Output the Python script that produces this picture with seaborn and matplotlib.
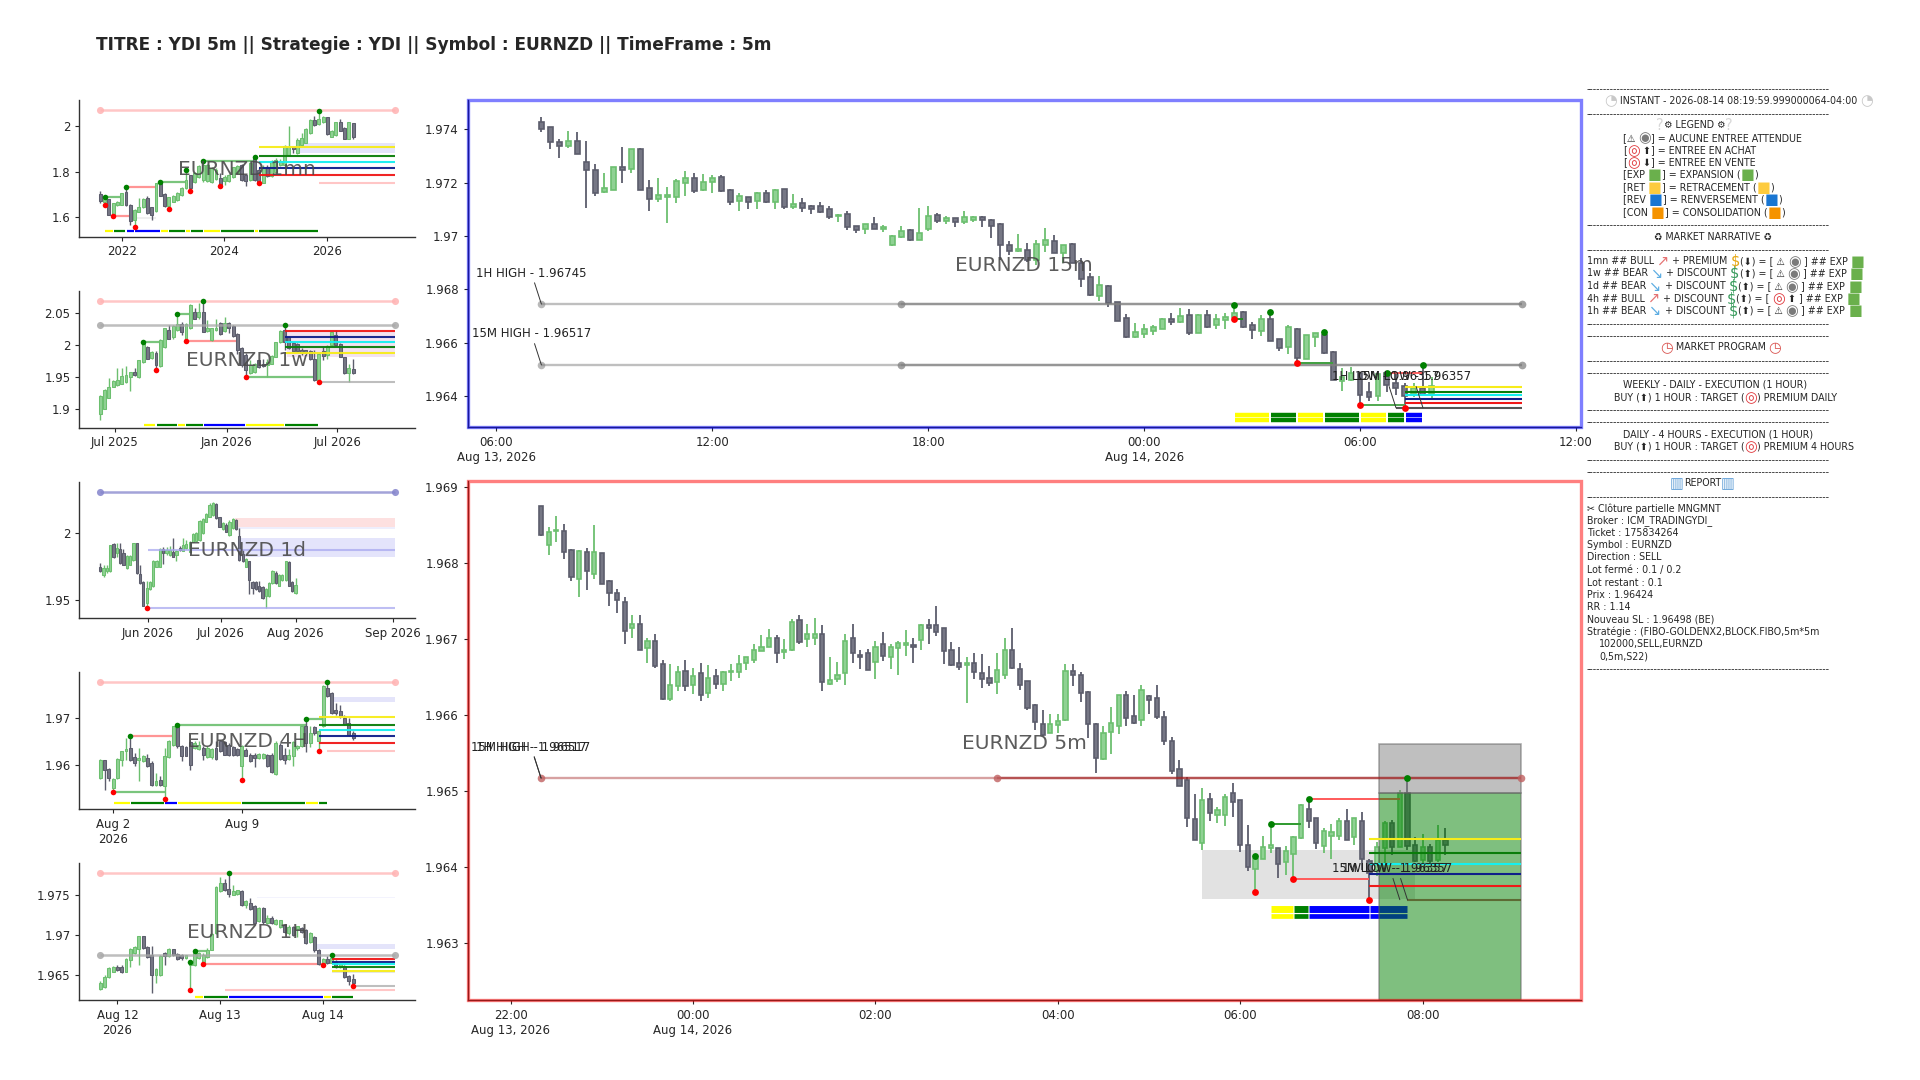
import matplotlib
matplotlib.use('Agg')
import matplotlib.pyplot as plt
import matplotlib.dates as mdates
from matplotlib.patches import Rectangle
import numpy as np
import pandas as pd
import seaborn as sns

# ---- candles : (open, high, low, close) ----
CANDLES_1MN = [
    (1.702,1.715,1.664,1.673),(1.669,1.690,1.654,1.682),(1.680,1.682,1.609,1.610),(1.610,1.664,1.606,1.663),
    (1.654,1.673,1.651,1.666),(1.654,1.708,1.653,1.705),(1.712,1.734,1.651,1.654),(1.655,1.658,1.566,1.585),
    (1.588,1.635,1.559,1.632),(1.625,1.686,1.622,1.647),(1.644,1.683,1.641,1.679),(1.683,1.693,1.615,1.618),
    (1.645,1.647,1.588,1.610),(1.629,1.752,1.625,1.749),(1.753,1.756,1.693,1.695),(1.702,1.705,1.647,1.650),
    (1.650,1.690,1.635,1.688),(1.669,1.698,1.666,1.693),(1.676,1.712,1.673,1.708),(1.698,1.734,1.695,1.730),
    (1.727,1.807,1.724,1.763),(1.784,1.785,1.715,1.727),(1.756,1.800,1.752,1.796),(1.775,1.829,1.771,1.825),
    (1.763,1.847,1.756,1.829),(1.761,1.834,1.756,1.829),(1.756,1.822,1.752,1.815),(1.766,1.815,1.763,1.807),
    (1.771,1.793,1.737,1.742),(1.761,1.785,1.742,1.778),(1.761,1.788,1.756,1.785),(1.775,1.822,1.771,1.819),
    (1.793,1.829,1.788,1.825),(1.829,1.834,1.761,1.763),(1.784,1.785,1.737,1.761),(1.763,1.844,1.761,1.839),
    (1.863,1.866,1.761,1.763),(1.807,1.815,1.749,1.756),(1.752,1.829,1.749,1.815),(1.819,1.829,1.775,1.781),
    (1.781,1.851,1.778,1.848),(1.800,1.858,1.793,1.851),(1.829,1.854,1.825,1.848),(1.829,1.917,1.825,1.912),
    (1.873,2.000,1.869,1.909),(1.906,1.909,1.880,1.898),(1.880,1.946,1.877,1.939),(1.917,1.968,1.912,1.946),
    (1.927,1.990,1.924,1.985),(1.968,2.029,1.965,2.026),(2.026,2.044,2.001,2.004),(2.009,2.067,2.006,2.029),
    (2.016,2.044,2.012,2.041),(2.038,2.041,1.961,1.963),(1.953,1.982,1.950,1.980),(1.961,2.019,1.958,2.016),
    (2.016,2.029,1.977,1.980),(1.990,1.994,1.942,1.943),(1.943,2.019,1.942,2.016),(2.012,2.015,1.943,1.953),
]
CANDLES_1W = [
    (1.893,1.922,1.883,1.920),(1.901,1.931,1.900,1.930),(1.918,1.948,1.917,1.935),(1.935,1.945,1.934,1.944),
    (1.938,1.964,1.936,1.945),(1.940,1.964,1.939,1.952),(1.943,1.967,1.941,1.953),(1.951,1.958,1.929,1.958),
    (1.958,1.964,1.952,1.953),(1.950,1.977,1.949,1.976),(1.974,2.004,1.972,2.003),(1.997,1.998,1.978,1.979),
    (1.980,1.990,1.979,1.989),(1.988,1.990,1.961,1.969),(1.967,2.009,1.966,2.008),(1.997,2.027,1.996,2.027),
    (2.023,2.031,2.009,2.010),(2.012,2.031,2.010,2.030),(2.023,2.048,2.022,2.033),(2.032,2.036,2.016,2.021),
    (2.007,2.034,2.006,2.033),(2.026,2.064,2.025,2.062),(2.052,2.057,2.040,2.041),(2.043,2.065,2.041,2.052),
    (2.052,2.069,2.020,2.021),(2.022,2.039,2.021,2.026),(2.008,2.026,2.007,2.026),(2.023,2.040,2.022,2.027),
    (2.035,2.036,2.016,2.017),(2.022,2.043,2.021,2.035),(2.035,2.036,2.019,2.027),(2.030,2.031,2.013,2.014),
    (2.017,2.018,1.986,1.992),(1.995,1.997,1.966,1.969),(1.984,1.987,1.950,1.961),(1.956,1.977,1.955,1.969),
    (1.958,1.972,1.957,1.970),(1.976,1.977,1.965,1.966),(1.971,1.979,1.966,1.967),(1.969,1.978,1.950,1.974),
    (1.971,1.984,1.970,1.983),(1.982,2.005,1.981,2.004),(2.004,2.023,2.003,2.022),(2.023,2.031,1.992,2.005),
    (2.012,2.013,1.994,1.995),(2.003,2.005,1.990,1.991),(2.002,2.003,1.989,1.990),(1.992,1.995,1.984,1.987),
    (1.992,1.993,1.984,1.987),(1.991,1.992,1.977,1.978),(1.978,1.992,1.944,1.945),(1.945,1.987,1.943,1.986),
    (1.990,1.997,1.976,1.983),(1.984,2.000,1.978,1.998),(2.000,2.021,1.999,2.020),(2.016,2.023,1.998,2.000),
    (2.002,2.003,1.981,1.982),(1.981,1.982,1.955,1.956),(1.956,1.971,1.943,1.965),(1.962,1.979,1.955,1.956),
]
CANDLES_1D = [
    (1.9750,1.9775,1.9710,1.9713),(1.9688,1.9763,1.9675,1.9738),(1.9713,1.9758,1.9705,1.9738),(1.9713,1.9913,1.9708,1.9913),
    (1.9920,1.9930,1.9815,1.9820),(1.9850,1.9930,1.9820,1.9888),(1.9880,1.9930,1.9770,1.9775),(1.9850,1.9880,1.9758,1.9763),
    (1.9738,1.9835,1.9733,1.9833),(1.9763,1.9840,1.9758,1.9833),(1.9800,1.9930,1.9795,1.9925),(1.9925,1.9930,1.9695,1.9700),
    (1.9695,1.9763,1.9620,1.9625),(1.9633,1.9638,1.9450,1.9455),(1.9475,1.9638,1.9438,1.9588),(1.9580,1.9638,1.9575,1.9630),
    (1.9600,1.9800,1.9595,1.9795),(1.9750,1.9800,1.9745,1.9795),(1.9750,1.9888,1.9745,1.9880),(1.9885,1.9895,1.9770,1.9850),
    (1.9850,1.9900,1.9838,1.9875),(1.9838,1.9905,1.9830,1.9875),(1.9863,1.9968,1.9820,1.9825),(1.9838,1.9875,1.9795,1.9870),
    (1.9888,1.9905,1.9870,1.9875),(1.9870,1.9968,1.9865,1.9913),(1.9888,1.9950,1.9883,1.9920),(1.9863,1.9945,1.9858,1.9938),
    (1.9938,2.0005,1.9933,1.9995),(1.9945,2.0013,1.9940,2.0005),(1.9950,2.0100,1.9945,2.0093),(2.0000,2.0113,1.9995,2.0108),
    (2.0088,2.0150,2.0083,2.0145),(2.0125,2.0225,2.0120,2.0213),(2.0138,2.0233,2.0133,2.0225),(2.0220,2.0225,2.0105,2.0113),
    (2.0120,2.0125,2.0045,2.0050),(2.0030,2.0088,2.0025,2.0080),(2.0063,2.0075,2.0008,2.0013),(1.9988,2.0100,1.9983,2.0088),
    (2.0038,2.0113,2.0033,2.0105),(2.0100,2.0105,2.0025,2.0030),(1.9983,2.0038,1.9788,1.9800),(1.9845,1.9875,1.9783,1.9788),
    (1.9750,1.9813,1.9745,1.9805),(1.9790,1.9795,1.9545,1.9650),(1.9633,1.9638,1.9545,1.9588),(1.9630,1.9638,1.9575,1.9580),
    (1.9600,1.9638,1.9558,1.9563),(1.9595,1.9600,1.9508,1.9513),(1.9530,1.9588,1.9438,1.9580),(1.9525,1.9630,1.9520,1.9625),
    (1.9625,1.9725,1.9620,1.9720),(1.9705,1.9713,1.9620,1.9625),(1.9605,1.9695,1.9600,1.9688),(1.9650,1.9695,1.9645,1.9688),
    (1.9650,1.9795,1.9645,1.9788),(1.9783,1.9788,1.9600,1.9605),(1.9630,1.9638,1.9555,1.9563),(1.9550,1.9663,1.9545,1.9613),
]
CANDLES_4H = [
    (1.95732,1.96136,1.95710,1.96108),(1.96108,1.96122,1.95484,1.95909),(1.95930,1.95944,1.95661,1.95732),(1.95519,1.95732,1.95427,1.95718),
    (1.95732,1.96157,1.95718,1.96143),(1.96122,1.96313,1.95980,1.96299),(1.96299,1.96583,1.96122,1.96334),(1.96370,1.96632,1.96086,1.96122),
    (1.96171,1.96263,1.95980,1.96051),(1.96122,1.96370,1.95661,1.96150),(1.96086,1.96228,1.96072,1.96193),(1.96157,1.96249,1.95966,1.95994),
    (1.96051,1.96086,1.95554,1.95590),(1.95576,1.95838,1.95554,1.95661),(1.95682,1.95767,1.95554,1.95576),(1.95554,1.96370,1.95306,1.96207),
    (1.96178,1.96547,1.96157,1.96512),(1.96441,1.96831,1.96420,1.96831),(1.96831,1.96860,1.96370,1.96420),(1.96405,1.96441,1.96086,1.96207),
    (1.96391,1.96405,1.96193,1.96207),(1.96491,1.96512,1.95909,1.96015),(1.96370,1.96512,1.96349,1.96476),(1.96349,1.96512,1.96334,1.96441),
    (1.96370,1.96405,1.96122,1.96228),(1.96178,1.96405,1.96157,1.96370),(1.96178,1.96370,1.96136,1.96349),(1.96370,1.96512,1.96122,1.96136),
    (1.96512,1.96547,1.96278,1.96299),(1.96491,1.96512,1.96214,1.96228),(1.96441,1.96476,1.96193,1.96228),(1.96391,1.96405,1.96193,1.96228),
    (1.96349,1.96370,1.96193,1.96228),(1.95980,1.96441,1.95682,1.96405),(1.96334,1.96370,1.96193,1.96207),(1.96228,1.96263,1.96065,1.96086),
    (1.96228,1.96263,1.95966,1.96157),(1.96157,1.96263,1.96143,1.96249),(1.96157,1.96263,1.96143,1.96249),(1.96228,1.96249,1.95966,1.95980),
    (1.96228,1.96263,1.95845,1.95859),(1.95824,1.96512,1.95788,1.96476),(1.96441,1.96476,1.96122,1.96136),(1.96228,1.96370,1.96037,1.96122),
    (1.96136,1.96349,1.96122,1.96228),(1.96207,1.96512,1.95994,1.96491),(1.96370,1.96441,1.96334,1.96420),(1.96420,1.96845,1.96391,1.96831),
    (1.96831,1.96994,1.96278,1.96476),(1.96476,1.96845,1.96391,1.96689),(1.96817,1.96831,1.96653,1.96689),(1.96512,1.96760,1.96313,1.96725),
    (1.96831,1.97717,1.96817,1.97681),(1.97646,1.97767,1.97455,1.97483),(1.97540,1.97554,1.97100,1.97114),(1.97185,1.97327,1.97079,1.97114),
    (1.97150,1.97292,1.97008,1.97043),(1.97008,1.97079,1.96866,1.96887),(1.96902,1.97008,1.96632,1.96653),(1.96689,1.96725,1.96533,1.96583),
]
CANDLES_1H = [
    (1.96320,1.96428,1.96312,1.96395),(1.96353,1.96499,1.96341,1.96478),(1.96470,1.96603,1.96462,1.96583),(1.96541,1.96612,1.96533,1.96595),
    (1.96603,1.96624,1.96553,1.96562),(1.96603,1.96624,1.96528,1.96533),(1.96541,1.96708,1.96533,1.96695),(1.96687,1.96833,1.96603,1.96825),
    (1.96770,1.96854,1.96762,1.96845),(1.96820,1.96987,1.96624,1.96979),(1.96979,1.96987,1.96825,1.96833),(1.96845,1.96854,1.96708,1.96720),
    (1.96749,1.96854,1.96278,1.96499),(1.96499,1.96583,1.96395,1.96574),(1.96499,1.96749,1.96487,1.96741),(1.96749,1.96791,1.96624,1.96729),
    (1.96729,1.96833,1.96720,1.96820),(1.96820,1.96825,1.96741,1.96749),(1.96762,1.96770,1.96687,1.96695),(1.96749,1.96762,1.96687,1.96708),
    (1.96708,1.96749,1.96695,1.96737),(1.96624,1.96666,1.96312,1.96645),(1.96624,1.96799,1.96616,1.96770),(1.96708,1.96791,1.96699,1.96770),
    (1.96666,1.96770,1.96641,1.96749),(1.96720,1.96833,1.96708,1.96812),(1.96812,1.97020,1.96804,1.97012),(1.97020,1.97604,1.97012,1.97596),
    (1.97542,1.97721,1.97533,1.97646),(1.97646,1.97696,1.97542,1.97554),(1.97571,1.97767,1.97471,1.97513),(1.97500,1.97625,1.97492,1.97542),
    (1.97513,1.97554,1.97500,1.97542),(1.97542,1.97554,1.97354,1.97375),(1.97375,1.97438,1.97333,1.97417),(1.97396,1.97458,1.97312,1.97321),
    (1.97363,1.97375,1.97137,1.97146),(1.97167,1.97346,1.97158,1.97333),(1.97333,1.97346,1.97137,1.97154),(1.97146,1.97250,1.97137,1.97208),
    (1.97208,1.97229,1.97137,1.97146),(1.97137,1.97196,1.97125,1.97179),(1.97096,1.97187,1.97087,1.97179),(1.97125,1.97137,1.97020,1.97029),
    (1.97020,1.97125,1.97000,1.97096),(1.97096,1.97104,1.96991,1.97000),(1.97071,1.97104,1.96970,1.97091),(1.97071,1.97096,1.97020,1.97041),
    (1.97063,1.97071,1.96887,1.96895),(1.96916,1.97029,1.96895,1.97020),(1.96970,1.96979,1.96791,1.96804),(1.96812,1.96820,1.96624,1.96633),
    (1.96624,1.96708,1.96616,1.96695),(1.96695,1.96729,1.96637,1.96645),(1.96654,1.96745,1.96645,1.96708),(1.96666,1.96687,1.96583,1.96603),
    (1.96595,1.96637,1.96583,1.96628),(1.96616,1.96624,1.96458,1.96470),(1.96487,1.96499,1.96374,1.96424),(1.96445,1.96512,1.96362,1.96395),
]
# 15m and 5m prices are stored in 1e-5 units
CANDLES_15M = [
    (197429,197448,197389,197400),(197409,197410,197326,197351),(197354,197363,197291,197338),(197339,197393,197331,197356),
    (197355,197389,197308,197309),(197279,197358,197104,197246),(197248,197270,197151,197163),(197165,197236,197160,197179),
    (197174,197259,197174,197258),(197260,197333,197200,197248),(197250,197328,197235,197326),(197328,197329,197174,197174),
    (197179,197210,197095,197139),(197139,197219,197129,197153),(197145,197183,197050,197153),(197148,197213,197124,197205),
    (197200,197243,197151,197219),(197219,197235,197163,197170),(197174,197234,197170,197203),(197204,197228,197160,197219),
    (197220,197230,197166,197168),(197174,197175,197118,197126),(197133,197160,197094,197149),(197145,197148,197103,197129),
    (197131,197165,197103,197163),(197163,197174,197124,197129),(197128,197175,197103,197174),(197175,197176,197103,197108),
    (197108,197156,197103,197121),(197124,197144,197091,197106),(197111,197116,197083,197101),(197111,197128,197086,197091),
    (197103,197114,197064,197070),(197075,197081,197051,197079),(197081,197093,197024,197034),(197036,197038,197013,197021),
    (197026,197046,197008,197044),(197045,197070,197025,197026),(197026,197041,197016,197034),(196965,197003,196964,197001),
    (196995,197036,196994,197020),(197024,197028,196983,196984),(196986,197105,196985,197013),(197026,197114,197020,197076),
    (197078,197085,197049,197058),(197055,197075,197045,197068),(197066,197069,197035,197051),(197053,197095,197045,197070),
    (197059,197076,197051,197071),(197070,197076,197035,197059),(197060,197064,196994,197036),(197046,197048,196910,196965),
    (196968,196983,196929,196944),(196943,197008,196940,196953),(196949,196975,196904,196910),(196910,196986,196891,196970),
    (196965,197030,196940,196984),(196981,197004,196935,196938),(196935,196966,196898,196966),(196970,196973,196898,196900),
    (196900,196916,196810,196838),(196845,196863,196775,196779),(196776,196851,196756,196818),(196814,196816,196735,196750),
    (196751,196754,196683,196683),(196691,196706,196619,196620),(196620,196673,196619,196641),(196633,196669,196616,196650),
    (196645,196665,196629,196660),(196651,196691,196650,196688),(196689,196713,196666,196679),(196678,196729,196673,196699),
    (196703,196726,196630,196638),(196638,196706,196636,196703),(196703,196721,196656,196658),(196665,196709,196650,196690),
    (196684,196710,196651,196695),(196696,196743,196688,196713),(196716,196719,196656,196660),(196668,196679,196615,196646),
    (196645,196703,196625,196689),(196689,196714,196605,196606),(196614,196615,196570,196581),(196585,196665,196558,196658),
    (196653,196654,196523,196541),(196540,196629,196539,196628),(196623,196638,196583,196635),(196628,196640,196559,196561),
    (196566,196568,196460,196461),(196456,196504,196419,196473),(196460,196510,196458,196488),(196488,196489,196365,196404),
    (196414,196454,196383,196398),(196400,196485,196381,196483),(196485,196486,196416,196441),(196448,196481,196404,196429),
    (196439,196448,196354,196401),(196408,196448,196398,196431),(196429,196515,196401,196404),(196408,196473,196394,196439),
]
CANDLES_5M = [
    (196875,196875,196836,196837),(196824,196847,196810,196841),(196842,196862,196828,196844),(196842,196852,196805,196814),
    (196817,196819,196776,196782),(196779,196817,196756,196816),(196814,196820,196765,196789),(196786,196850,196779,196814),
    (196813,196813,196773,196773),(196777,196778,196744,196761),(196760,196766,196734,196751),(196749,196756,196694,196711),
    (196714,196731,196701,196720),(196720,196731,196685,196685),(196688,196702,196668,196697),(196697,196706,196662,196665),
    (196667,196673,196620,196621),(196621,196667,196619,196639),(196638,196665,196632,196656),(196658,196673,196632,196638),
    (196639,196662,196628,196652),(196655,196669,196618,196626),(196629,196666,196623,196649),(196652,196661,196634,196641),
    (196641,196658,196631,196657),(196656,196667,196645,196658),(196656,196679,196649,196667),(196669,196677,196659,196676),
    (196673,196693,196668,196685),(196684,196705,196684,196689),(196690,196713,196690,196702),(196702,196705,196669,196681),
    (196683,196700,196674,196686),(196685,196726,196684,196722),(196725,196731,196694,196696),(196700,196720,196689,196706),
    (196702,196728,196692,196706),(196706,196718,196631,196644),(196641,196677,196640,196646),(196647,196670,196644,196653),
    (196655,196706,196639,196698),(196701,196720,196668,196681),(196679,196685,196660,196677),(196681,196687,196659,196659),
    (196670,196698,196648,196689),(196693,196709,196671,196678),(196677,196694,196660,196689),(196688,196697,196653,196695),
    (196692,196712,196678,196695),(196692,196701,196668,196690),(196699,196720,196686,196718),(196718,196727,196694,196714),
    (196718,196743,196704,196709),(196715,196715,196667,196684),(196685,196696,196664,196666),(196668,196689,196659,196663),
    (196666,196676,196616,196667),(196669,196681,196647,196656),(196655,196680,196636,196648),(196649,196665,196638,196642),
    (196643,196681,196628,196659),(196653,196702,196647,196686),(196686,196715,196660,196662),(196660,196668,196633,196639),
    (196645,196645,196606,196609),(196613,196615,196580,196591),(196588,196607,196572,196574),(196577,196602,196576,196588),
    (196587,196602,196576,196592),(196593,196667,196592,196658),(196658,196667,196638,196653),(196653,196656,196617,196629),
    (196630,196631,196570,196588),(196588,196590,196524,196544),(196542,196586,196541,196577),(196578,196610,196549,196590),
    (196586,196626,196575,196626),(196626,196632,196585,196596),(196599,196627,196588,196590),(196593,196639,196586,196633),
    (196625,196627,196602,196620),(196623,196640,196595,196598),(196598,196605,196561,196566),(196566,196571,196523,196526),
    (196529,196541,196506,196506),(196514,196518,196453,196465),(196463,196496,196436,196436),(196432,196504,196422,196488),
    (196490,196497,196460,196471),(196469,196479,196458,196475),(196469,196496,196454,196492),(196497,196510,196466,196485),
    (196488,196488,196420,196429),(196429,196455,196395,196400),(196398,196414,196367,196411),(196411,196441,196411,196427),
    (196425,196457,196419,196429),(196425,196425,196385,196404),(196406,196428,196389,196421),(196417,196441,196384,196440),
    (196438,196483,196437,196482),(196477,196489,196451,196460),(196464,196464,196424,196432),(196428,196451,196419,196447),
    (196441,196457,196411,196446),(196441,196465,196436,196460),(196460,196477,196436,196436),(196439,196465,196429,196464),
    (196461,196473,196396,196411),(196408,196411,196357,196392),(196396,196433,196388,196427),(196425,196460,196403,196458),
    (196458,196462,196416,196427),(196427,196502,196426,196498),(196498,196517,196423,196428),(196429,196440,196407,196408),
    (196409,196443,196405,196426),(196426,196430,196405,196408),(196409,196455,196407,196436),(196436,196452,196416,196429),
]

# levels : (first candle, last candle, price, colour name)
LEVELS_1MN = [(0,68.8,2.068,'pink'),(37,68.8,1.909,'yellow'),(37,68.8,1.870,'green'),(37,68.8,1.844,'cyan'),
              (37,68.8,1.816,'navy'),(37,68.8,1.785,'red'),(51,68.8,1.749,'pink')]
LEVELS_1W = [(0,68.8,2.068,'pink'),(0,68.8,2.031,'grey'),(43,68.8,2.022,'red'),(43,68.8,2.012,'navy'),
             (43,68.8,2.005,'cyan'),(43,68.8,1.997,'green'),(43,68.8,1.988,'yellow'),(51,68.8,1.943,'grey')]
LEVELS_1D = [(0,89,2.031,'slate'),(14.3,89,1.9875,'lavender'),(14.3,89,1.9438,'lavender')]
LEVELS_4H = [(0,68.8,1.97767,'pink'),(51,68.8,1.97036,'yellow'),(51,68.8,1.96866,'green'),(51,68.8,1.96746,'cyan'),
             (51,68.8,1.96625,'navy'),(51,68.8,1.96476,'red'),(53,68.8,1.96313,'pink')]
LEVELS_1H = [(0,68.8,1.97767,'pink'),(0,68.8,1.96745,'grey'),(54,68.8,1.96699,'red'),(54,68.8,1.96666,'navy'),
             (54,68.8,1.96633,'cyan'),(54,68.8,1.96599,'green'),(54,68.8,1.96553,'yellow'),(59,68.8,1.96362,'grey'),
             (29,68.8,1.96312,'pink')]
# boxes : (first candle, last candle, low, high, colour)
BOXES_1MN = [(46.2,68.8,1.880,1.927,'#e4e4fb'),(8,13,1.591,1.603,'#f0f0f0')]
BOXES_1W = [(43.6,68.8,1.982,2.022,'#f3e2f0')]
BOXES_1D = [(40.7,89,2.0045,2.0113,'#fde0e0'),(40.7,89,2.0030,2.0045,'#eeeefc'),(42.2,89,1.9825,1.9963,'#e4e4fb')]
BOXES_4H = [(54.4,68.8,1.97341,1.97455,'#e4e4fa')]
BOXES_1H = [(50.5,68.8,1.96820,1.96887,'#e4e4fa'),(36.5,68.8,1.97460,1.97475,'#f3f3fd'),(54,68.8,1.96520,1.96541,'#e6e6e6')]
# pivots : (candle, price)
HIGHS_1MN = [(1,1.690),(6,1.734),(14,1.753),(20,1.807),(24,1.847),(36,1.866),(51,2.067)]
LOWS_1MN = [(1,1.654),(3,1.606),(8,1.559),(16,1.635),(21,1.715),(28,1.737),(37,1.749)]
HIGHS_1W = [(10,2.004),(18,2.048),(24,2.068),(43,2.031)]
LOWS_1W = [(13,1.961),(20,2.007),(34,1.950),(51,1.943)]
HIGHS_1D = []
LOWS_1D = [(14,1.9438)]
HIGHS_4H = [(7,1.96632),(18,1.96859),(48,1.96994),(53,1.97767)]
LOWS_4H = [(3,1.95427),(15,1.95292),(33,1.95682),(51,1.96313)]
HIGHS_1H = [(21,1.96666),(22,1.96800),(30,1.97767),(54,1.96745)]
LOWS_1H = [(21,1.96312),(24,1.96641),(52,1.96620),(59,1.96362)]
# swing legs : (from candle, to candle, price, colour)
LEGS_1MN = [(1,5,1.690,'#6cbf6f'),(3,7,1.606,'#ff8a8a'),(6,13,1.734,'#ff8a8a'),(14,20,1.753,'#6cbf6f'),(24,36,1.847,'#6cbf6f')]
LEGS_1W = [(10,14,2.004,'#6cbf6f'),(18,21,2.048,'#6cbf6f'),(20,32,2.007,'#ff8a8a'),(34,50,1.951,'#6cbf6f')]
LEGS_1D = []
LEGS_4H = [(3,15,1.95427,'#6cbf6f'),(7,17,1.96632,'#ff8a8a'),(18,48,1.96859,'#6cbf6f'),(48,52,1.96994,'#6cbf6f')]
LEGS_1H = [(22,25,1.96800,'#6cbf6f'),(24,52,1.96641,'#ff8a8a')]
# structure band under the candles : (from candle, to candle, colour)
BAND_1MN = [(1,3,'yellow'),(3,6,'green'),(6,8,'blue'),(8,14,'blue'),(14,16,'yellow'),(16,20,'green'),(20,21,'yellow'),
            (21,24,'green'),(24,28,'yellow'),(28,36,'green'),(36,37,'yellow'),(37,51,'green')]
BAND_1W = [(10,13,'yellow'),(13,18,'green'),(18,20,'yellow'),(20,24,'green'),(24,34,'blue'),(34,43,'yellow'),(43,51,'green')]
BAND_4H = [(3,7,'yellow'),(7,15,'green'),(15,18,'blue'),(18,33,'yellow'),(33,48,'green'),(48,51,'yellow'),(51,53,'green')]
BAND_1H = [(22,24,'yellow'),(24,30,'green'),(30,52,'blue'),(52,54,'yellow'),(54,59,'green')]
# axis ticks
XTICKS_1MN, XLABELS_1MN = [4.98,28.95,53], ['2022','2024','2026']
XTICKS_1W, XLABELS_1W = [3.35,29.5,55.3], ['Jul 2025','Jan 2026','Jul 2026']
XTICKS_1D, XLABELS_1D = [14.3,36.35,59,88.3], ['Jun 2026','Jul 2026','Aug 2026','Sep 2026']
XTICKS_4H, XLABELS_4H = [3,33], ['Aug 2\n2026','Aug 9']
XTICKS_1H, XLABELS_1H = [4,28,52], ['Aug 12\n2026','Aug 13','Aug 14']
YTICKS_1MN, YLABELS_1MN = [1.6,1.8,2.0], ['1.6','1.8','2']
YTICKS_1W, YLABELS_1W = [1.9,1.95,2.0,2.05], ['1.9','1.95','2','2.05']
YTICKS_1D, YLABELS_1D = [1.95,2.0], ['1.95','2']
YTICKS_4H, YLABELS_4H = [1.96,1.97], ['1.96','1.97']
YTICKS_1H, YLABELS_1H = [1.965,1.97,1.975], ['1.965','1.97','1.975']

# right hand report, one entry per line : (left px, y px, text)
DASHES = '-' * 72
REPORT_LINES = [
    (1587,89,DASHES),(1604,100.5,'⏱ INSTANT - 2026-08-14 08:19:59.999000064-04:00 ⏱'),(1587,114,DASHES),
    (1656,125.5,'❔⚙ LEGEND ⚙❔'),(1623,138,'[⚠ 👁] = AUCUNE ENTREE ATTENDUE'),(1623,150.5,'[🎯 ⬆] = ENTREE EN ACHAT'),
    (1623,162.5,'[🎯 ⬇] = ENTREE EN VENTE'),(1623,174.5,'[EXP 🟩] = EXPANSION (🟩)'),(1623,187,'[RET 🟨] = RETRACEMENT (🟨)'),
    (1623,199.5,'[REV 🟦] = RENVERSEMENT (🟦)'),(1623,212.5,'[CON 🟧] = CONSOLIDATION (🟧)'),(1587,225,DASHES),
    (1654,236.5,'♻ MARKET NARRATIVE ♻'),(1587,250,DASHES),
    (1587,261.5,'1mn ## BULL 📈 + PREMIUM 💰(⬇) = [ ⚠ 👁 ] ## EXP 🟩'),(1587,273.5,'1w ## BEAR 📉 + DISCOUNT 💸(⬆) = [ ⚠ 👁 ] ## EXP 🟩'),
    (1587,286.5,'1d ## BEAR 📉 + DISCOUNT 💸(⬆) = [ ⚠ 👁 ] ## EXP 🟩'),(1587,298.5,'4h ## BULL 📈 + DISCOUNT 💸(⬆) = [ 🎯 ⬆ ] ## EXP 🟩'),
    (1587,310.5,'1h ## BEAR 📉 + DISCOUNT 💸(⬆) = [ ⚠ 👁 ] ## EXP 🟩'),(1587,324,DASHES),(1587,336,DASHES),
    (1660,347.5,'⏰ MARKET PROGRAM ⏰'),(1587,361,DASHES),(1587,373,DASHES),
    (1623,384.5,'WEEKLY - DAILY - EXECUTION (1 HOUR)'),(1614,397.5,'BUY (⬆) 1 HOUR : TARGET (🎯) PREMIUM DAILY'),
    (1587,410,DASHES),(1587,422,DASHES),(1623,434.5,'DAILY - 4 HOURS - EXECUTION (1 HOUR)'),
    (1614,446.5,'BUY (⬆) 1 HOUR : TARGET (🎯) PREMIUM 4 HOURS'),(1587,460,DASHES),(1587,472,DASHES),
    (1670,483.5,'📊REPORT📊'),(1587,497,DASHES),(1587,509,'✂ Clôture partielle MNGMNT'),(1587,521,'Broker : ICM_TRADINGYDI_'),
    (1587,533.5,'Ticket : 175834264'),(1587,545.5,'Symbol : EURNZD'),(1587,557.5,'Direction : SELL'),
    (1587,570.5,'Lot fermé : 0.1 / 0.2'),(1587,582.5,'Lot restant : 0.1'),(1587,594.5,'Prix : 1.96424'),(1587,607.5,'RR : 1.14'),
    (1587,619.5,'Nouveau SL : 1.96498 (BE)'),(1587,632,'Stratégie : (FIBO-GOLDENX2,BLOCK.FIBO,5m*5m'),
    (1599,644.5,'102000,SELL,EURNZD'),(1599,656.5,'0,5m,S22)'),(1587,669,DASHES),
]
# colour emoji are not available here, each gets the nearest glyph in its colour
EMOJI = {'🟩':('■','#6ab04c'),'🟨':('■','#fdcb3e'),'🟦':('■','#1976d2'),'🟧':('■','#f59300'),'🎯':('◎','#e0393e'),
         '👁':('◉','#7a7a7a'),'⏱':('◔','#c8c8c8'),'❔':('?','#d8d8d8'),'⏰':('◷','#d9534f'),'📈':('↗','#e57373'),
         '📉':('↘','#5dade2'),'💰':('$','#e6a817'),'💸':('$','#3c9d5f'),'📊':('▥','#5b9bd5')}

# ---- style ----
sns.set_theme(style='ticks', rc={'xtick.major.size': 2.8, 'ytick.major.size': 2.8, 'xtick.major.width': 0.8,
                                 'ytick.major.width': 0.8, 'axes.linewidth': 1.0, 'xtick.labelsize': 8.5,
                                 'ytick.labelsize': 8.5, 'axes.edgecolor': '#333333'})
plt.rcParams['font.family'] = ['DejaVu Sans']
COLORS = {'pink': '#ffb3b3', 'yellow': '#f7ec1a', 'green': '#0a7d0a', 'cyan': '#14f0f0', 'navy': '#0f1f8a', 'red': '#f01818',
          'grey': '#a8a8a8', 'slate': '#8484cc', 'lavender': '#a8a8f0', 'blue': '#0000ee'}
BAND = {'yellow': '#ffff00', 'green': '#008000', 'blue': '#0000ff'}
UP, UP_FILL, DOWN, DOWN_FILL = '#6cbf6f', '#8fd193', '#5c5d6c', '#767785'
FW, FH = 1920, 1080


def px_axes(fig, left, top, right, bottom):
    return fig.add_axes([left / FW, 1 - bottom / FH, (right - left) / FW, (bottom - top) / FH])


def draw_candles(ax, xs, rows, body, wick_lw, edge_lw, min_h):
    df = pd.DataFrame(rows, columns=['o', 'h', 'l', 'c'])
    df['x'] = xs
    up = df['c'] >= df['o']
    for part, edge, fill in [(df[up], UP, UP_FILL), (df[~up], DOWN, DOWN_FILL)]:
        ax.vlines(part['x'], part['l'], part['h'], color=edge, lw=wick_lw, zorder=3)
        ax.bar(part['x'], (part['c'] - part['o']).abs().clip(lower=min_h), bottom=part[['o', 'c']].min(axis=1),
               width=body, facecolor=fill, edgecolor=edge, linewidth=edge_lw, zorder=3.1)


def hline(ax, x0, x1, y, color, lw=1.2, alpha=1.0, z=4):
    sns.lineplot(x=[x0, x1], y=[y, y], ax=ax, color=color, lw=lw, alpha=alpha, zorder=z, legend=False,
                 errorbar=None, solid_capstyle='butt')


def dots(ax, pts, color, size=9, alpha=1.0, z=5):
    if pts:
        sns.scatterplot(x=[p[0] for p in pts], y=[p[1] for p in pts], ax=ax, color=color, s=size, alpha=alpha,
                        linewidth=0, legend=False, zorder=z)


def title_tag(ax, text):
    ax.text(0.5, 0.495, text, transform=ax.transAxes, ha='center', va='center', fontsize=14.5, color='#4a4a4a', alpha=0.9, zorder=6)


def mini(rect, name, rows, levels, boxes, highs, lows, legs, band, band_y, xticks, xlabels, yticks, ylabels, ylim, step, x_end):
    ax = px_axes(fig, *rect)
    draw_candles(ax, np.arange(len(rows)), rows, 0.68, 1.0, 0.75, 0.0004)
    for x0, x1, lo, hi, col in boxes:
        ax.fill_between([x0, x1], lo, hi, color=col, lw=0, zorder=2)
    for x0, x1, price, col in levels:
        strong = col in ('pink', 'grey', 'slate') and x0 == 0
        hline(ax, x0, x1, price, COLORS[col], lw=1.8 if strong else 1.5, alpha=0.75 if col in ('pink', 'grey', 'slate', 'lavender') else 0.95)
        if strong:
            dots(ax, [(x0, price), (x1, price)], COLORS[col], size=26, alpha=0.85)
    for x0, x1, price, col in legs:
        hline(ax, x0, x1, price, col, lw=1.6, alpha=0.9, z=2.5)
    for x0, x1, col in band:
        hline(ax, x0 + 0.12, x1 - 0.12, band_y, BAND[col], lw=1.6)
    dots(ax, highs, '#008000', size=16)
    dots(ax, lows, '#ff0000', size=16)
    ax.set_xlim((58 - 121) / step, (1065 - 121) / step)
    ax.set_ylim(*ylim)
    ax.set_xticks(xticks, xlabels)
    ax.set_yticks(yticks, ylabels)
    ax.set_xlabel('')
    ax.set_ylabel('')
    sns.despine(ax=ax)
    title_tag(ax, name)
    return ax


def frame(ax, color):
    # thick translucent frame around the two main panels
    ax.add_patch(Rectangle((0, 0), 1, 1, transform=ax.transAxes, fill=False, edgecolor=color, alpha=0.5, lw=2.4, clip_on=False, zorder=8))
    sns.despine(ax=ax)


def note(ax, text, x, y):
    ax.annotate(text, xy=(x, y), xytext=(-10, 31), textcoords='offset pixels', ha='center', va='center', fontsize=8.5, color='#222222',
                arrowprops=dict(arrowstyle='-', color='#333333', lw=0.7, shrinkA=0, shrinkB=0), zorder=7)


fig = plt.figure(figsize=(19.2, 10.8), dpi=100)
fig.text(95.5 / FW, 1 - 44.5 / FH, 'TITRE : YDI 5m || Strategie : YDI || Symbol : EURNZD || TimeFrame : 5m', fontsize=12.25,
         fontweight='bold', color='#262626', ha='left', va='center')

# ---- left column ----
mini((79.3, 100, 415, 236.7), 'EURNZD 1mn', CANDLES_1MN, LEVELS_1MN, BOXES_1MN, HIGHS_1MN, LOWS_1MN, LEGS_1MN, BAND_1MN, 1.542,
     XTICKS_1MN, XLABELS_1MN, YTICKS_1MN, YLABELS_1MN, (1.5153, 2.1139), 12.85, 68.8)
mini((79.3, 291, 415, 427.7), 'EURNZD 1w', CANDLES_1W, LEVELS_1W, BOXES_1W, HIGHS_1W, LOWS_1W, LEGS_1W, BAND_1W, 1.876,
     XTICKS_1W, XLABELS_1W, YTICKS_1W, YLABELS_1W, (1.8713, 2.0841), 12.85, 68.8)
mini((79.3, 481.7, 415, 618), 'EURNZD 1d', CANDLES_1D, LEVELS_1D, BOXES_1D, HIGHS_1D, LOWS_1D, LEGS_1D, [], 0,
     XTICKS_1D, XLABELS_1D, YTICKS_1D, YLABELS_1D, (1.9363, 2.0388), 9.93, 89)
mini((79.3, 672, 415, 809), 'EURNZD 4H', CANDLES_4H, LEVELS_4H, BOXES_4H, HIGHS_4H, LOWS_4H, LEGS_4H, BAND_4H, 1.95207,
     XTICKS_4H, XLABELS_4H, YTICKS_4H, YLABELS_4H, (1.95072, 1.97985), 12.85, 68.8)
mini((79.3, 863, 415, 1000), 'EURNZD 1H', CANDLES_1H, LEVELS_1H, BOXES_1H, HIGHS_1H, LOWS_1H, LEGS_1H, BAND_1H, 1.96220,
     XTICKS_1H, XLABELS_1H, YTICKS_1H, YLABELS_1H, (1.96186, 1.97896), 12.85, 68.8)

# ---- 15 minutes ----
ax15 = px_axes(fig, 467.6, 100, 1580.7, 427)
t15 = mdates.date2num(pd.date_range('2026-08-13 07:15', periods=len(CANDLES_15M), freq='15min'))
rows15 = [tuple(v / 1e5 for v in r) for r in CANDLES_15M]
draw_candles(ax15, t15, rows15, 8.3 / 1440, 1.3, 1.2, 0.00003)
end15 = mdates.date2num(pd.Timestamp('2026-08-14 10:30'))
mid15 = mdates.date2num(pd.Timestamp('2026-08-13 17:15'))
for price, label in [(1.96745, '1H HIGH - 1.96745'), (1.96517, '15M HIGH - 1.96517')]:
    hline(ax15, t15[0], end15, price, '#808080', lw=1.7, alpha=0.5)
    hline(ax15, mid15, end15, price, '#808080', lw=1.7, alpha=0.65)
    dots(ax15, [(t15[0], price), (mid15, price), (end15, price)], '#808080', size=30, alpha=0.55)
    dots(ax15, [(mid15, price), (end15, price)], '#808080', size=30, alpha=0.4)
    note(ax15, label, t15[0], price)
for price, col in [(1.96435, 'yellow'), (1.96415, 'green'), (1.96403, 'cyan'), (1.96389, 'navy'), (1.96374, 'red')]:
    hline(ax15, t15[96], end15, price, COLORS[col], lw=1.5)
hline(ax15, t15[95], end15, 1.96356, '#555555', lw=1.5)
note(ax15, '1H LOW - 1.96357', t15[95], 1.96356)
note(ax15, '15M LOW - 1.96357', t15[98], 1.96356)
for n0, n1, price, col in [(78, 79, 1.96688, '#1f8a1f'), (85, 89, 1.96524, '#3f9f3f'), (92, 97, 1.96365, '#4fa84f'), (95, 99, 1.96486, '#ff6060')]:
    hline(ax15, t15[n0 - 1], t15[n1 - 1], price, col, lw=1.4)
dots(ax15, [(t15[77], 1.96743), (t15[81], 1.96714), (t15[87], 1.96640), (t15[94], 1.96486), (t15[98], 1.96515)], '#008000', size=24)
dots(ax15, [(t15[77], 1.96688), (t15[84], 1.96523), (t15[91], 1.96365), (t15[96], 1.96354)], '#ff0000', size=24)
for n0, n1, col in [(78, 82, 'yellow'), (82, 85, 'green'), (85, 88, 'yellow'), (88, 92, 'green'), (92, 95, 'yellow'), (95, 97, 'green'), (97, 99, 'blue')]:
    for price in (1.96329, 1.96310):
        hline(ax15, t15[n0 - 1] + 0.0007, t15[n1 - 1] - 0.0007, price, BAND[col], lw=3.2)
ax15.set_xlim(mdates.date2num(pd.Timestamp('2026-08-13 05:12')), mdates.date2num(pd.Timestamp('2026-08-14 12:08')))
ax15.set_ylim(1.96284, 1.97510)
tick_15 = ['2026-08-13 06:00', '2026-08-13 12:00', '2026-08-13 18:00', '2026-08-14 00:00', '2026-08-14 06:00', '2026-08-14 12:00']
ax15.set_xticks(mdates.date2num(pd.to_datetime(tick_15)), ['06:00\nAug 13, 2026', '12:00', '18:00', '00:00\nAug 14, 2026', '06:00', '12:00'])
ax15.set_yticks([1.964, 1.966, 1.968, 1.97, 1.972, 1.974], ['1.964', '1.966', '1.968', '1.97', '1.972', '1.974'])
frame(ax15, '#0000ff')
title_tag(ax15, 'EURNZD 15m')

# ---- 5 minutes ----
ax5 = px_axes(fig, 467.6, 481, 1580.7, 1000)
t5 = mdates.date2num(pd.date_range('2026-08-13 22:20', periods=len(CANDLES_5M), freq='5min'))
rows5 = [tuple(v / 1e5 for v in r) for r in CANDLES_5M]
draw_candles(ax5, t5, rows5, 2.75 / 1440, 1.3, 1.2, 0.00002)
end5 = mdates.date2num(pd.Timestamp('2026-08-14 09:05'))
mid5 = mdates.date2num(pd.Timestamp('2026-08-14 03:20'))
box0 = mdates.date2num(pd.Timestamp('2026-08-14 07:31'))
ax5.fill_between([mdates.date2num(pd.Timestamp('2026-08-14 05:35')), mdates.date2num(pd.Timestamp('2026-08-14 07:55'))],
                 1.96358, 1.96422, color='#d0d0d0', alpha=0.6, lw=0, zorder=2)
ax5.add_patch(Rectangle((box0, 1.96225), end5 - box0, 1.96498 - 1.96225, facecolor='#008000', edgecolor='#606060', alpha=0.5, lw=1.2, zorder=5))
ax5.add_patch(Rectangle((box0, 1.96498), end5 - box0, 1.96562 - 1.96498, facecolor='#808080', edgecolor='#606060', alpha=0.5, lw=1.2, zorder=5))
hline(ax5, t5[0], end5, 1.96517, '#a02020', lw=1.7, alpha=0.42, z=6)
hline(ax5, mid5, end5, 1.96517, '#a02020', lw=1.7, alpha=0.6, z=6)
dots(ax5, [(t5[0], 1.96517), (mid5, 1.96517), (end5, 1.96517)], '#c06060', size=30, alpha=0.8, z=6)
note(ax5, '15M HIGH - 1.96517', t5[0], 1.96517)
note(ax5, '1H HIGH - 1.96517', t5[0], 1.96517)
for price, col in [(1.96437, 'yellow'), (1.96419, 'green'), (1.96404, 'cyan'), (1.96391, 'navy'), (1.96375, 'red')]:
    hline(ax5, t5[109], end5, price, COLORS[col], lw=1.5, z=6)
hline(ax5, t5[114], end5, 1.96357, '#555522', lw=1.5, alpha=0.8, z=6)
note(ax5, '15M LOW - 1.96357', t5[113], 1.96357)
note(ax5, '1W LOW - 1.96357', t5[114], 1.96357)
for n0, n1, price, col in [(97, 101, 1.96457, '#2e9a2e'), (100, 110, 1.96384, '#ff5a5a'), (102, 114, 1.96489, '#ff5a5a')]:
    hline(ax5, t5[n0 - 1], t5[n1 - 1], price, col, lw=1.4)
dots(ax5, [(t5[94], 1.96414), (t5[96], 1.96457), (t5[101], 1.96489), (t5[114], 1.96517)], '#008000', size=24, z=6)
dots(ax5, [(t5[94], 1.96367), (t5[99], 1.96384), (t5[109], 1.96357)], '#ff0000', size=24, z=6)
for n0, n1, col in [(97, 100, 'yellow'), (100, 102, 'green'), (102, 110, 'blue'), (110, 115, 'blue')]:
    hline(ax5, t5[n0 - 1] + 0.00025, t5[n1 - 1] - 0.00025, 1.96345, BAND[col], lw=5, z=4)
    hline(ax5, t5[n0 - 1] + 0.00025, t5[n1 - 1] - 0.00025, 1.96336, BAND[col], lw=3.4, z=4)
ax5.set_xlim(mdates.date2num(pd.Timestamp('2026-08-13 21:31:40')), mdates.date2num(pd.Timestamp('2026-08-14 09:44')))
ax5.set_ylim(1.96225, 1.96908)
tick_5 = ['2026-08-13 22:00', '2026-08-14 00:00', '2026-08-14 02:00', '2026-08-14 04:00', '2026-08-14 06:00', '2026-08-14 08:00']
ax5.set_xticks(mdates.date2num(pd.to_datetime(tick_5)), ['22:00\nAug 13, 2026', '00:00\nAug 14, 2026', '02:00', '04:00', '06:00', '08:00'])
ax5.set_yticks([1.963, 1.964, 1.965, 1.966, 1.967, 1.968, 1.969], ['1.963', '1.964', '1.965', '1.966', '1.967', '1.968', '1.969'])
frame(ax5, '#ff0000')
title_tag(ax5, 'EURNZD 5m')

# ---- report text, glyph by glyph where an emoji needs its own colour ----
renderer = fig.canvas.get_renderer()
REPORT_SIZE = 6.85
EMOJI_SIZE = 10.5


def text_width(s, size):
    probe = fig.text(0, 0, s + '|', fontsize=size)
    w = probe.get_window_extent(renderer).width
    probe.set_text('|')
    w -= probe.get_window_extent(renderer).width
    probe.remove()
    return w


for x_px, y_px, line in REPORT_LINES:
    chunk = ''
    pieces = []
    for ch in line:
        if ch in EMOJI:
            if chunk:
                pieces.append((chunk, '#262626', REPORT_SIZE))
                chunk = ''
            pieces.append((*EMOJI[ch], EMOJI_SIZE))
        else:
            chunk += ch
    if chunk:
        pieces.append((chunk, '#262626', REPORT_SIZE))
    cursor = x_px
    for piece, col, size in pieces:
        fig.text(cursor / FW, 1 - y_px / FH, piece, fontsize=size, color=col, ha='left', va='center')
        cursor += text_width(piece, size)

fig.savefig('out.png', dpi=100)
